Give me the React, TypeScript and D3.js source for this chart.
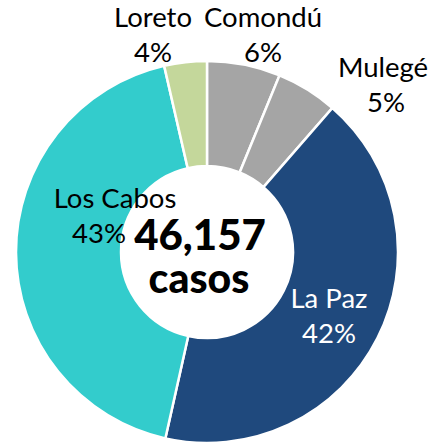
import React from "react";
import * as d3 from "d3";

const categories = ["Comondú", "Mulegé", "La Paz", "Los Cabos", "Loreto"];
const values = [6.2, 5.2, 42.1, 42.9, 3.6];
const percentLabels = ["6%", "5%", "42%", "43%", "4%"];
const colors = ["#A5A5A5", "#A5A5A5", "#1F497D", "#33CCCC", "#C4D79B"];
const totalLabel = "46,157";
const unitLabel = "casos";

const W = 429;
const H = 444;
const cx = 207;
const cy = 252;
const outerR = 191;
const innerR = 86;

// label placement (x center, first-line baseline) per slice
const labelPos: [number, number, string][] = [
  [263, 27, "#000"],
  [383, 77, "#000"],
  [329, 308, "#fff"],
  [115, 208, "#000"],
  [153, 27, "#000"],
];
const pctOffsetX = [0, 3, 0, -16, 0];

export default function App() {
  const pie = d3.pie<number>().sort(null).value((d) => d)(values);
  const arc = d3.arc<d3.PieArcDatum<number>>().innerRadius(innerR).outerRadius(outerR);
  const font = "Lato, 'Open Sans', sans-serif";
  return (
    <svg width={W} height={H} style={{ position: "absolute", left: 0, top: 0 }}>
      <rect width={W} height={H} fill="#fff" />
      <g transform={`translate(${cx},${cy})`}>
        {pie.map((p, i) => (
          <path key={i} d={arc(p) || ""} fill={colors[i]} stroke="#fff" strokeWidth={2.5} />
        ))}
      </g>
      {categories.map((c, i) => (
        <g key={c} fontFamily={font} fontSize={27.5} fill={labelPos[i][2]} textAnchor="middle">
          <text x={labelPos[i][0]} y={labelPos[i][1]}>{c}</text>
          <text x={labelPos[i][0] + pctOffsetX[i]} y={labelPos[i][1] + 35}>{percentLabels[i]}</text>
        </g>
      ))}
      <text x={200} y={250} textAnchor="middle" fontFamily={font} fontWeight={900} fontSize={42}>
        {totalLabel}
      </text>
      <text x={199} y={293} textAnchor="middle" fontFamily={font} fontWeight={900} fontSize={41}>
        {unitLabel}
      </text>
    </svg>
  );
}
